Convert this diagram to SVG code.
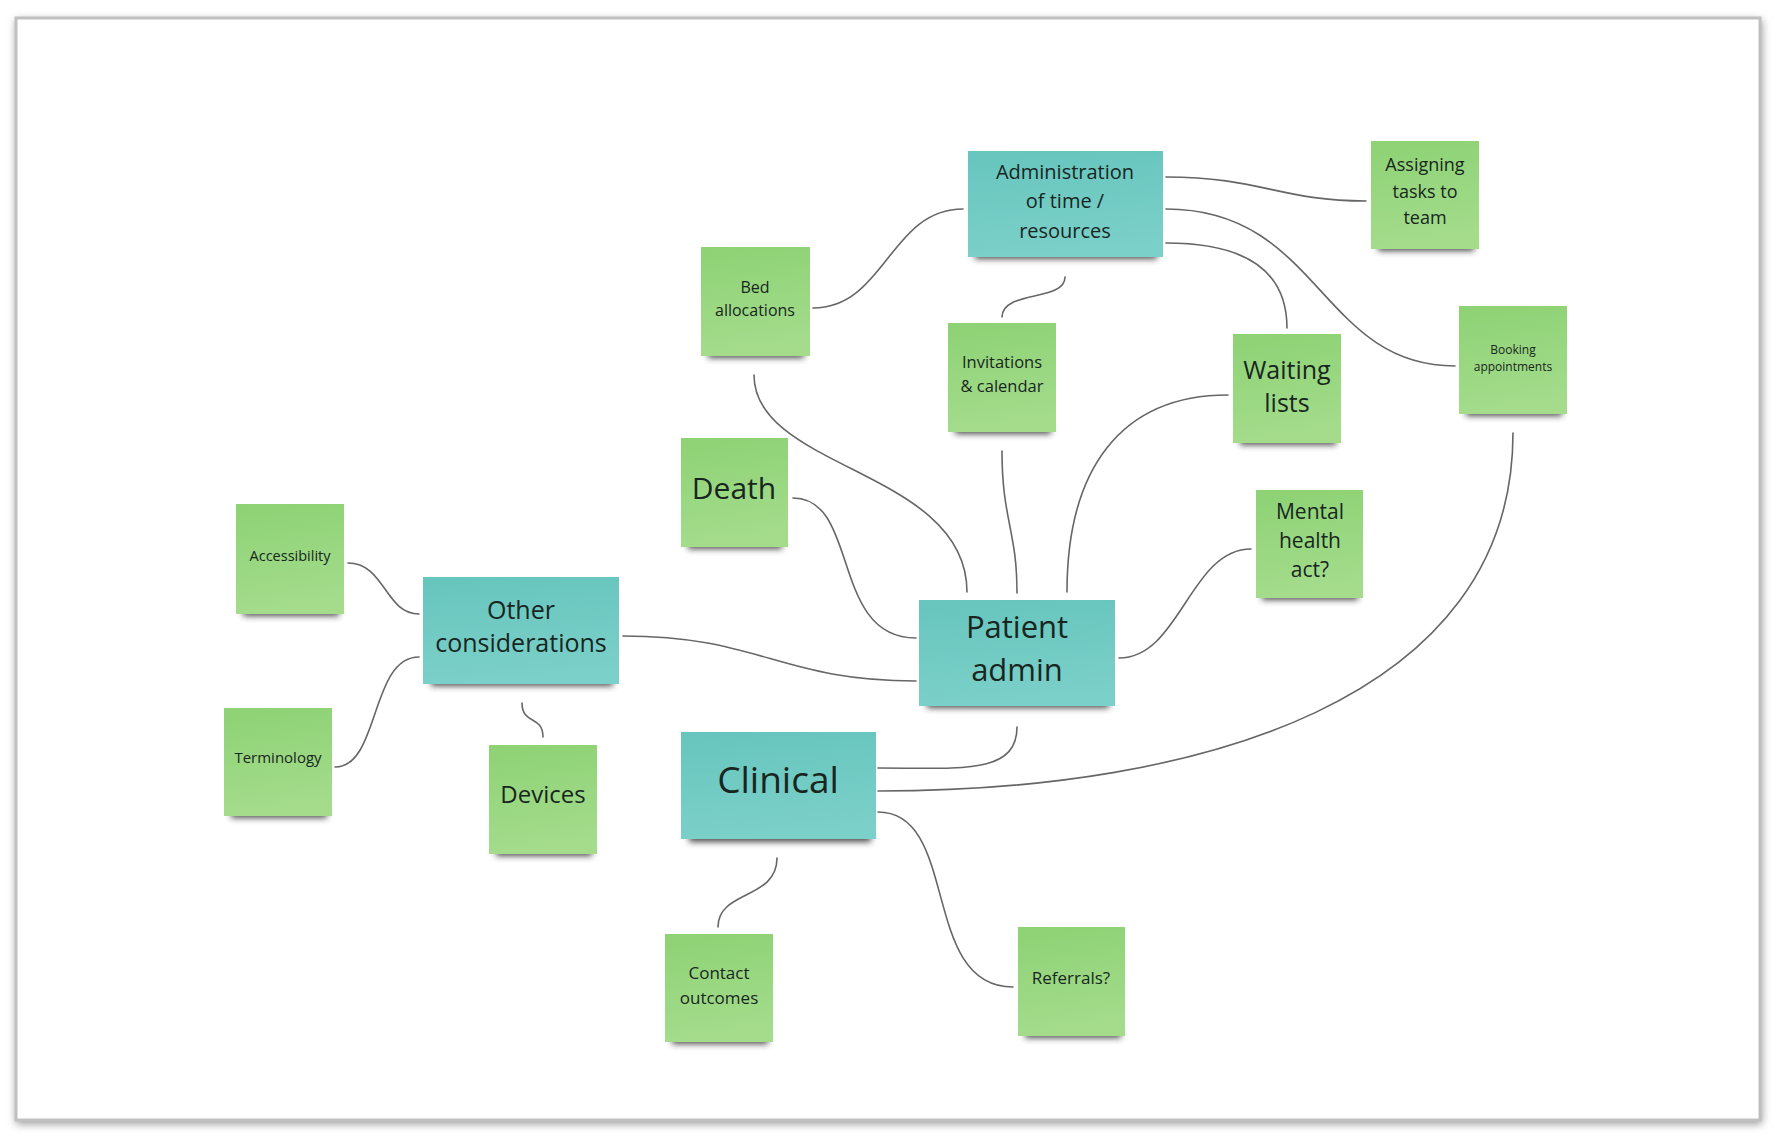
<svg xmlns="http://www.w3.org/2000/svg" width="1779" height="1140" viewBox="0 0 1779 1140">
<defs>
<linearGradient id="gGreen" x1="0" y1="0" x2="0.15" y2="1">
<stop offset="0" stop-color="#8dd274"/>
<stop offset="1" stop-color="#a4dc8c"/>
</linearGradient>
<linearGradient id="gTeal" x1="0" y1="0" x2="0.15" y2="1">
<stop offset="0" stop-color="#66c5bd"/>
<stop offset="1" stop-color="#7bd0c9"/>
</linearGradient>
<filter id="blur" x="-20%" y="-100%" width="140%" height="300%">
<feGaussianBlur stdDeviation="3"/>
</filter>
<filter id="frameShadow" x="-5%" y="-5%" width="110%" height="110%">
<feGaussianBlur stdDeviation="4"/>
</filter>
<style>
.note{fill:url(#gGreen);}
.hub{fill:url(#gTeal);}
.sh{fill:#2e2e2e;opacity:0.85;filter:url(#blur);}
.t{font-family:"Open Sans","Noto Sans",sans-serif;fill:#18261f;text-anchor:middle;}
.c{fill:none;stroke:#666666;stroke-width:1.6;stroke-linecap:round;}
</style>
</defs>
<rect width="1779" height="1140" fill="#ffffff"/>
<g id="frame">
<rect x="16" y="20" width="1746" height="1104" fill="#9a9a9a" filter="url(#frameShadow)"/>
<rect x="16" y="18" width="1744" height="1102" fill="#ffffff" stroke="#c0c0c0" stroke-width="3"/>
</g>
<g id="connectors">
<path class="c" d="M963,209 C890,209 885,308 813,308"/>
<path class="c" d="M1065,277 C1065,302 1002,290 1002,317"/>
<path class="c" d="M1166,177 C1260,177 1280,201 1366,201"/>
<path class="c" d="M1166,209 C1320,209 1320,366 1455,366"/>
<path class="c" d="M1166,243 C1245,243 1287,270 1287,328"/>
<path class="c" d="M754,375 C754,470 967,470 967,592"/>
<path class="c" d="M1002,451 C1002,520 1017,530 1017,593"/>
<path class="c" d="M1228,395 C1120,395 1067,470 1067,592"/>
<path class="c" d="M793,498 C860,498 830,638 916,638"/>
<path class="c" d="M623,636 C760,636 780,681 916,681"/>
<path class="c" d="M1119,658 C1180,658 1190,549 1251,549"/>
<path class="c" d="M1017,727 C1017,775 960,768 878,768"/>
<path class="c" d="M1513,433 C1513,700 1200,791 878,791"/>
<path class="c" d="M878,812 C960,812 920,987 1013,987"/>
<path class="c" d="M777,858 C777,900 718,890 718,927"/>
<path class="c" d="M348,563 C385,563 385,614 419,614"/>
<path class="c" d="M335,767 C380,767 370,657 419,657"/>
<path class="c" d="M522,703 C522,725 543,715 543,737"/>
</g>
<g id="admin">
<rect class="sh" x="975" y="249" width="182" height="10"/>
<rect class="hub" x="968" y="151" width="195" height="106"/>
<text class="t" font-size="20"><tspan x="1065" y="179">Administration</tspan><tspan x="1065" y="208">of time /</tspan><tspan x="1065" y="238">resources</tspan></text>
</g>
<g id="assigning">
<rect class="sh" x="1378" y="241" width="96" height="10"/>
<rect class="note" x="1371" y="141" width="108" height="108"/>
<text class="t" font-size="18"><tspan x="1425" y="171">Assigning</tspan><tspan x="1425" y="198">tasks to</tspan><tspan x="1425" y="224">team</tspan></text>
</g>
<g id="bed">
<rect class="sh" x="708" y="348" width="96" height="10"/>
<rect class="note" x="701" y="247" width="109" height="109"/>
<text class="t" font-size="16"><tspan x="755" y="293">Bed</tspan><tspan x="755" y="316">allocations</tspan></text>
</g>
<g id="invitations">
<rect class="sh" x="955" y="424" width="96" height="10"/>
<rect class="note" x="948" y="323" width="108" height="109"/>
<text class="t" font-size="16.5"><tspan x="1002" y="368">Invitations</tspan><tspan x="1002" y="392">&amp; calendar</tspan></text>
</g>
<g id="waiting">
<rect class="sh" x="1240" y="435" width="96" height="10"/>
<rect class="note" x="1233" y="334" width="108" height="109"/>
<text class="t" font-size="25"><tspan x="1287" y="379">Waiting</tspan><tspan x="1287" y="412">lists</tspan></text>
</g>
<g id="booking">
<rect class="sh" x="1466" y="406" width="96" height="10"/>
<rect class="note" x="1459" y="306" width="108" height="108"/>
<text class="t" font-size="12"><tspan x="1513" y="354">Booking</tspan><tspan x="1513" y="371">appointments</tspan></text>
</g>
<g id="death">
<rect class="sh" x="688" y="539" width="94" height="10"/>
<rect class="note" x="681" y="438" width="107" height="109"/>
<text class="t" font-size="30" x="734" y="499">Death</text>
</g>
<g id="mental">
<rect class="sh" x="1262" y="590" width="96" height="10"/>
<rect class="note" x="1256" y="490" width="107" height="108"/>
<text class="t" font-size="21"><tspan x="1310" y="519">Mental</tspan><tspan x="1310" y="548">health</tspan><tspan x="1310" y="577">act?</tspan></text>
</g>
<g id="patient">
<rect class="sh" x="927" y="698" width="182" height="10"/>
<rect class="hub" x="919" y="600" width="196" height="106"/>
<text class="t" font-size="31"><tspan x="1017" y="638">Patient</tspan><tspan x="1017" y="681">admin</tspan></text>
</g>
<g id="accessibility">
<rect class="sh" x="243" y="606" width="96" height="10"/>
<rect class="note" x="236" y="504" width="108" height="110"/>
<text class="t" font-size="14.5" x="290" y="561">Accessibility</text>
</g>
<g id="other">
<rect class="sh" x="431" y="676" width="182" height="10"/>
<rect class="hub" x="423" y="577" width="196" height="107"/>
<text class="t" font-size="25"><tspan x="521" y="619">Other</tspan><tspan x="521" y="652">considerations</tspan></text>
</g>
<g id="terminology">
<rect class="sh" x="231" y="808" width="96" height="10"/>
<rect class="note" x="224" y="708" width="108" height="108"/>
<text class="t" font-size="15" x="278" y="763">Terminology</text>
</g>
<g id="devices">
<rect class="sh" x="496" y="846" width="96" height="10"/>
<rect class="note" x="489" y="745" width="108" height="109"/>
<text class="t" font-size="24" x="543" y="803">Devices</text>
</g>
<g id="clinical">
<rect class="sh" x="689" y="832" width="182" height="10"/>
<rect class="hub" x="681" y="732" width="195" height="107"/>
<text class="t" font-size="37" x="778" y="793">Clinical</text>
</g>
<g id="contact">
<rect class="sh" x="672" y="1034" width="96" height="10"/>
<rect class="note" x="665" y="934" width="108" height="108"/>
<text class="t" font-size="17"><tspan x="719" y="979">Contact</tspan><tspan x="719" y="1004">outcomes</tspan></text>
</g>
<g id="referrals">
<rect class="sh" x="1025" y="1028" width="96" height="10"/>
<rect class="note" x="1018" y="927" width="107" height="109"/>
<text class="t" font-size="17" x="1071" y="984">Referrals?</text>
</g>
</svg>
